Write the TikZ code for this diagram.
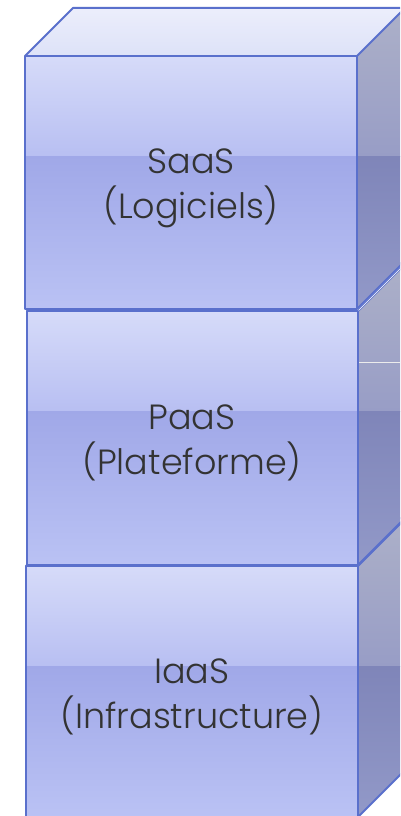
\documentclass[tikz,border=0pt]{standalone}
\usepackage{fontspec}
\setmainfont{Poppins Light}
\definecolor{edge}{HTML}{5A70CC}
\definecolor{fA}{HTML}{D6DBF9}
\definecolor{fB}{HTML}{B8BFF2}
\definecolor{fC}{HTML}{A0A8E8}
\definecolor{fD}{HTML}{BAC2F4}
\definecolor{rA}{HTML}{ACB0C8}
\definecolor{rB}{HTML}{989DC6}
\definecolor{rC}{HTML}{7F85B9}
\definecolor{rD}{HTML}{9299C8}
\definecolor{tA}{HTML}{ECEEFB}
\definecolor{tB}{HTML}{DDE2F8}
\definecolor{txt}{HTML}{333333}
\tikzset{
  cubeedge/.style={draw=edge, line width=2pt, line join=round},
  label/.style={text=txt, align=center, font=\fontsize{35}{45}\selectfont, inner sep=0pt}
}
\newcommand{\mycube}[4]{%
  \pgfmathsetmacro{\xa}{#1}\pgfmathsetmacro{\ya}{#2}%
  \pgfmathsetmacro{\xb}{#3}\pgfmathsetmacro{\yb}{#4}%
  \pgfmathsetmacro{\ym}{#2+100}%
  \pgfmathsetmacro{\xc}{#3+48}\pgfmathsetmacro{\yt}{#2-48}%
  \pgfmathsetmacro{\xd}{#1+48}\pgfmathsetmacro{\ye}{#4-48}%
  \shade[top color=tA, bottom color=tB] (\xa,\ya) -- (\xd,\yt) -- (\xc,\yt) -- (\xb,\ya) -- cycle;
  \begin{scope}
    \clip (\xb,\ya) -- (\xc,\yt) -- (\xc,\ye) -- (\xb,\yb) -- cycle;
    \shade[top color=rA, bottom color=rB] (\xb,\yt) rectangle (\xc,\ym);
    \shade[top color=rC, bottom color=rD] (\xb,\ym) rectangle (\xc,\yb);
  \end{scope}
  \shade[top color=fA, bottom color=fB] (\xa,\ya) rectangle (\xb,\ym);
  \shade[top color=fC, bottom color=fD] (\xa,\ym) rectangle (\xb,\yb);
  \draw[cubeedge] (\xa,\ya) rectangle (\xb,\yb);
  \draw[cubeedge] (\xa,\ya) -- (\xd,\yt) -- (\xc,\yt);
  \draw[cubeedge] (\xb,\ya) -- (\xc,\yt);
  \draw[cubeedge] (\xb,\yb) -- (\xc,\ye);
}
\begin{document}
\begin{tikzpicture}[x=1pt, y=-1pt]
\useasboundingbox (0,0) rectangle (400,816);
\fill[white] (0,0) rectangle (400,816);
\begin{scope}
\clip (0,0) rectangle (400,816);
\mycube{26}{566}{358}{817}
\mycube{27}{311}{358}{565}
\draw[white!85!gray, line width=0.8pt] (359,362) -- (400,362);
\mycube{25}{56}{357}{309}
\draw[white, line width=0.5pt] (358.5,310.5) -- (406,263);
\end{scope}
\node[label] (saas) at (191,188) {SaaS\\(Logiciels)};
\node[label] (paas) at (192,443) {PaaS\\(Plateforme)};
\node[label] (iaas) at (192,697) {IaaS\\(Infrastructure)};
\end{tikzpicture}
\end{document}
